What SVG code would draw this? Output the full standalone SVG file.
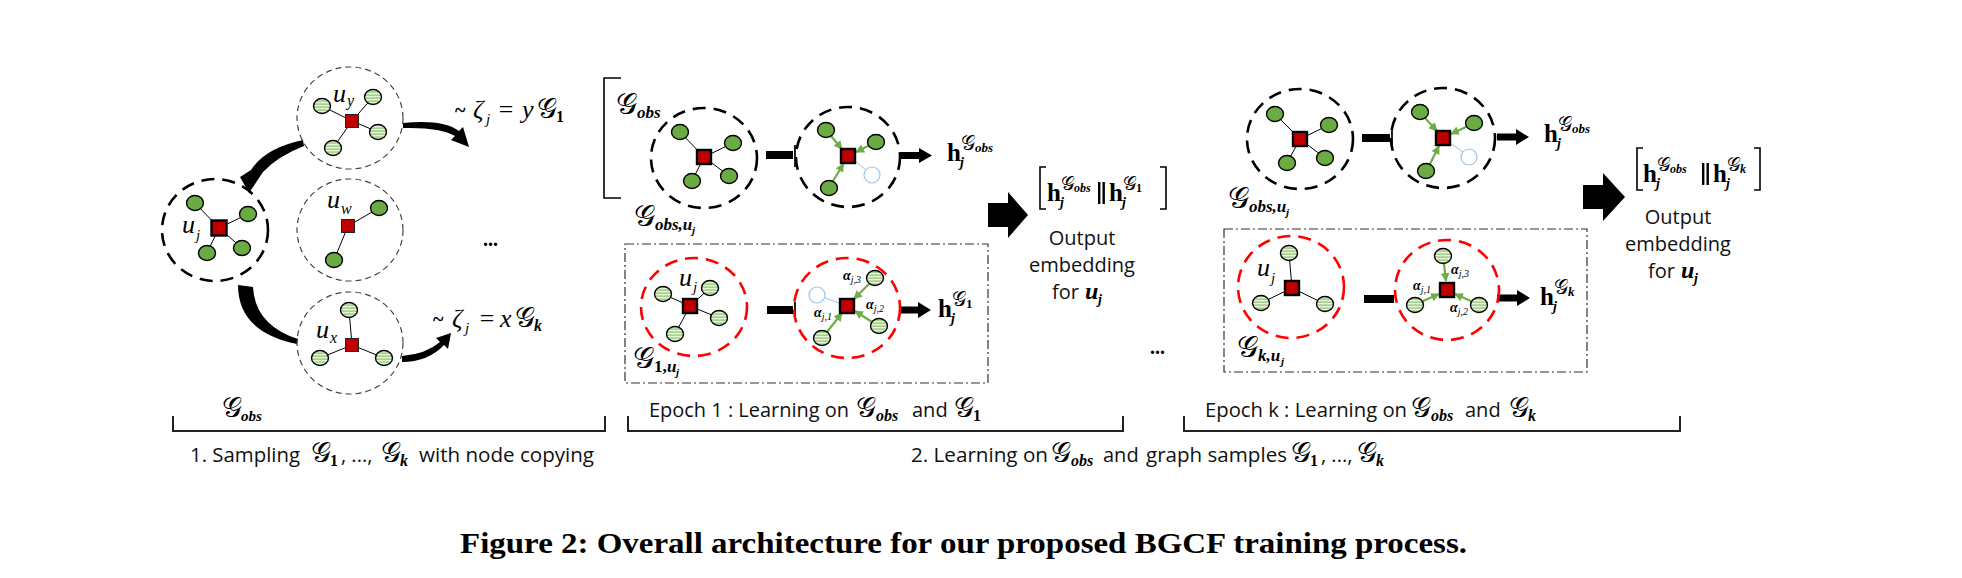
<svg xmlns="http://www.w3.org/2000/svg" width="1962" height="578" viewBox="0 0 1962 578">
<defs>
<pattern id="stripe" patternUnits="userSpaceOnUse" width="6" height="3">
<rect width="6" height="3" fill="#a9d18e"/>
<rect width="6" height="1.3" fill="#e6f3dd"/>
</pattern>
<marker id="gah" viewBox="0 0 10 10" refX="9" refY="5" markerWidth="4" markerHeight="4" orient="auto">
<path d="M0,0 L10,5 L0,10 Z" fill="#70ad47"/>
</marker>
<style>
.dk{fill:none;stroke:#000;stroke-width:2.6;stroke-dasharray:13 8}
.dt{fill:none;stroke:#444;stroke-width:1.2;stroke-dasharray:6 4}
.dr{fill:none;stroke:#ff0000;stroke-width:2.6;stroke-dasharray:13 8}
.box{fill:none;stroke:#333;stroke-width:1.2;stroke-dasharray:9 3 2 3}
.gn{fill:#6aab44;stroke:#000;stroke-width:1.4}
.ln{fill:url(#stripe);stroke:#000;stroke-width:1.4}
.bn{fill:none;stroke:#9dc3e6;stroke-width:1.2}
.sq{fill:#c00000;stroke:#000;stroke-width:2.4}
.sqt{fill:#c00000;stroke:#222;stroke-width:1}
.e{stroke:#000;stroke-width:1;fill:none}
.ga{stroke:#70ad47;stroke-width:2.2;marker-end:url(#gah);fill:none}
.be{stroke:#9dc3e6;stroke-width:1;fill:none}
.blk{fill:#000}
.br{fill:none;stroke:#000;stroke-width:1.6}
.brk{fill:none;stroke:#222;stroke-width:2}
.mi{font-family:"Liberation Serif",serif;font-style:italic}
.mib{font-family:"Liberation Serif",serif;font-style:italic;font-weight:bold}
.hb{font-family:"Liberation Serif",serif;font-weight:bold}
.sg{font-family:"DejaVu Serif","DejaVu Sans","Liberation Serif",serif}
.sans{font-family:"Open Sans","Liberation Sans",sans-serif;fill:#111}
.cap{font-family:"Liberation Serif",serif;font-weight:bold;font-size:29px}
</style>
</defs>
<rect width="1962" height="578" fill="#fff"/>

<g id="connectors">
<path class="e" d="M219 228 L195 203 M219 228 L248 214 M219 228 L207 253 M219 228 L242 248"/>
<path class="e" d="M352 121 L322 106 M352 121 L373 97 M352 121 L378 132 M352 121 L333 148"/>
<path class="e" d="M348 226 L379 208 M348 226 L334 260"/>
<path class="e" d="M352 345 L349 310 M352 345 L320 358 M352 345 L384 358"/>
<path class="blk" d="M303 140 Q265 148 251 170 L240 177 L249 193 L263 172 Q278 156 304 146 Z"/>
<path class="blk" d="M238 285 L253 287 Q255 325 298 339 L297 344 Q238 332 238 285 Z"/>
<path class="blk" d="M403 123 Q443 119 459 131 L463 127 L469 147 L451 140 L455 136 Q440 127 403 128 Z"/>
<path class="blk" d="M402 356 Q426 354 440 342 L436 338 L451 333 L448 349 L444 345 Q428 362 402 362 Z"/>
<path class="e" d="M704 157 L680 132 M704 157 L733 143 M704 157 L692 181 M704 157 L729 176"/>
<rect class="blk" x="766" y="151" width="27" height="8"/>
<path class="brk" d="M795 145 V167"/>
<path class="ga" d="M831 136 L842 149"/>
<path class="ga" d="M869 145.6 L856 152"/>
<path class="ga" d="M833 181 L843.5 163.7"/>
<path class="be" d="M855 161 L866 170"/>
<rect class="blk" x="900" y="152" width="20" height="7"/>
<path class="blk" d="M919 148 L932 155.5 L919 163 Z"/>
<path class="e" d="M690 306 L663 294 M690 306 L710 288 M690 306 L719 318 M690 306 L675 334"/>
<rect class="blk" x="767" y="306" width="26" height="8"/>
<path class="brk" d="M795 302 V319"/>
<path class="ga" d="M869 284 L854 299"/>
<path class="ga" d="M872 322 L855 311"/>
<path class="ga" d="M827 332 L842 313"/>
<path class="be" d="M840 303.5 L825 298"/>
<rect class="blk" x="900" y="306.5" width="19" height="7"/>
<path class="blk" d="M918 302 L931 310 L918 318 Z"/>
<path class="blk" d="M988 203 H1008 V192 L1028 215 L1008 238 V227 H988 Z"/>
<path class="e" d="M1300 139 L1275 114 M1300 139 L1329 125 M1300 139 L1287 163 M1300 139 L1325 158"/>
<rect class="blk" x="1362" y="134" width="28" height="8"/>
<path class="brk" d="M1392 128 V148"/>
<path class="ga" d="M1425 118 L1437 131"/>
<path class="ga" d="M1467 126.5 L1451 134"/>
<path class="ga" d="M1430 164 L1439 146"/>
<path class="be" d="M1450 143 L1463 152"/>
<rect class="blk" x="1497" y="133.5" width="20" height="7"/>
<path class="blk" d="M1516 129 L1529 137 L1516 145 Z"/>
<path class="e" d="M1292 288 L1289 253 M1292 288 L1261 303 M1292 288 L1325 304"/>
<rect class="blk" x="1364" y="295" width="30" height="8"/>
<path class="ga" d="M1444 264 L1446 281"/>
<path class="ga" d="M1422 301.5 L1439 294"/>
<path class="ga" d="M1472 301.5 L1455 294"/>
<rect class="blk" x="1497" y="294.5" width="21" height="7"/>
<path class="blk" d="M1517 290 L1530 298 L1517 306 Z"/>
<path class="blk" d="M1583 185 H1603 V173 L1625 197 L1603 221 V209 H1583 Z"/>
</g>

<g id="node-uj">
<ellipse class="dk" cx="215" cy="230" rx="53" ry="51"/>
<rect class="sq" x="211.5" y="220.5" width="15" height="15"/>
<ellipse class="gn" cx="195" cy="203" rx="8.5" ry="7.5"/>
<ellipse class="gn" cx="248" cy="214" rx="8.5" ry="7.5"/>
<ellipse class="gn" cx="207" cy="253" rx="8.5" ry="7.5"/>
<ellipse class="gn" cx="242" cy="248" rx="8.5" ry="7.5"/>
<text class="mi" x="182" y="233" font-size="26">u</text><text class="mi" x="196" y="240" font-size="15">j</text>
</g>
<g id="node-uy">
<ellipse class="dt" cx="350" cy="118" rx="53" ry="51"/>
<rect class="sqt" x="345.5" y="114.5" width="13" height="13"/>
<ellipse class="ln" cx="322" cy="106" rx="8.5" ry="7.5"/>
<ellipse class="ln" cx="373" cy="97" rx="8.5" ry="7.5"/>
<ellipse class="ln" cx="378" cy="132" rx="8.5" ry="7.5"/>
<ellipse class="ln" cx="333" cy="148" rx="8.5" ry="7.5"/>
<text class="mi" x="333" y="102" font-size="26">u</text><text class="mi" x="347" y="106" font-size="16">y</text>
</g>
<g id="node-uw">
<ellipse class="dt" cx="350" cy="230" rx="53" ry="51"/>
<rect class="sqt" x="341.5" y="219.5" width="13" height="13"/>
<ellipse class="gn" cx="379" cy="208" rx="8.5" ry="7.5"/>
<ellipse class="gn" cx="334" cy="260" rx="8.5" ry="7.5"/>
<text class="mi" x="327" y="208" font-size="26">u</text><text class="mi" x="341" y="214" font-size="16">w</text>
</g>
<g id="node-ux">
<ellipse class="dt" cx="350" cy="343" rx="53" ry="51"/>
<rect class="sqt" x="345.5" y="338.5" width="13" height="13"/>
<ellipse class="ln" cx="349" cy="310" rx="8.5" ry="7.5"/>
<ellipse class="ln" cx="320" cy="358" rx="8.5" ry="7.5"/>
<ellipse class="ln" cx="384" cy="358" rx="8.5" ry="7.5"/>
<text class="mi" x="316" y="338" font-size="26">u</text><text class="mi" x="330" y="343" font-size="16">x</text>
</g>
<g id="sample-labels">
<text class="hb" x="455" y="117" font-size="20">~</text>
<text class="mi" x="473" y="118" font-size="26">ζ</text><text class="mi" x="486" y="124" font-size="15">j</text>
<text class="mi" x="497" y="118" font-size="26">=</text><text class="mi" x="522" y="118" font-size="26">y</text>
<text class="sg" x="537" y="118" font-size="28">𝒢</text><text class="hb" x="556" y="122" font-size="16">1</text>
<text class="hb" x="433" y="326" font-size="20">~</text>
<text class="mi" x="452" y="327" font-size="26">ζ</text><text class="mi" x="465" y="333" font-size="15">j</text>
<text class="mi" x="478" y="327" font-size="26">=</text><text class="mi" x="500" y="327" font-size="26">x</text>
<text class="sg" x="515" y="327" font-size="28">𝒢</text><text class="mib" x="534" y="331" font-size="16">k</text>
<text class="hb" x="483" y="246" font-size="20">...</text>
</g>

<g id="epoch1-obs-input">
<path class="br" d="M621 78 H604 V198 H621"/>
<text class="sg" x="616" y="114" font-size="30">𝒢</text><text class="mib" x="637" y="118" font-size="17">obs</text>
<ellipse class="dk" cx="704" cy="158" rx="53" ry="50"/>
<rect class="sq" x="697" y="150" width="14" height="14"/>
<ellipse class="gn" cx="680" cy="132" rx="8.5" ry="7.5"/>
<ellipse class="gn" cx="733" cy="143" rx="8.5" ry="7.5"/>
<ellipse class="gn" cx="692" cy="181" rx="8.5" ry="7.5"/>
<ellipse class="gn" cx="729" cy="176" rx="8.5" ry="7.5"/>
<text class="sg" x="634" y="226" font-size="30">𝒢</text><text class="mib" x="655" y="230" font-size="17">obs,u</text><text class="mib" x="692" y="234" font-size="11">j</text>
</g>
<g id="epoch1-obs-agg">
<ellipse class="dk" cx="848" cy="157" rx="52" ry="50"/>
<rect class="sq" x="841" y="149" width="14" height="14"/>
<ellipse class="gn" cx="826" cy="130" rx="8.5" ry="7.5"/>
<ellipse class="gn" cx="876" cy="142" rx="8.5" ry="7.5"/>
<ellipse class="gn" cx="829" cy="188" rx="8.5" ry="7.5"/>
<ellipse class="bn" cx="872" cy="175" rx="8" ry="8"/>
<text class="hb" x="947" y="161" font-size="25">h</text><text class="mib" x="960" y="167" font-size="14">j</text>
<text class="sg" x="961" y="150" font-size="20">𝒢</text><text class="mib" x="975" y="152" font-size="13">obs</text>
</g>
<g id="epoch1-g1-input">
<rect class="box" x="625" y="244" width="363" height="139"/>
<ellipse class="dr" cx="694" cy="307" rx="53" ry="49"/>
<rect class="sq" x="683" y="299" width="14" height="14"/>
<ellipse class="ln" cx="663" cy="294" rx="8.5" ry="7.5"/>
<ellipse class="ln" cx="710" cy="288" rx="8.5" ry="7.5"/>
<ellipse class="ln" cx="719" cy="318" rx="8.5" ry="7.5"/>
<ellipse class="ln" cx="675" cy="334" rx="8.5" ry="7.5"/>
<text class="mi" x="679" y="286" font-size="26">u</text><text class="mi" x="693" y="292" font-size="15">j</text>
<text class="sg" x="633" y="368" font-size="30">𝒢</text><text class="hb" x="654" y="372" font-size="17">1,</text><text class="mib" x="667" y="372" font-size="17">u</text><text class="mib" x="676" y="376" font-size="11">j</text>
</g>
<g id="epoch1-g1-agg">
<ellipse class="dr" cx="847" cy="308" rx="53" ry="50"/>
<rect class="sq" x="840" y="299" width="14" height="14"/>
<ellipse class="ln" cx="875" cy="278" rx="8.5" ry="7.5"/>
<ellipse class="ln" cx="879" cy="326" rx="8.5" ry="7.5"/>
<ellipse class="ln" cx="822" cy="338" rx="8.5" ry="7.5"/>
<ellipse class="bn" cx="817" cy="295" rx="8" ry="8"/>
<text x="843" y="280"><tspan class="mib" font-size="14">α</tspan><tspan class="mi" font-size="10" dy="3">j,3</tspan></text>
<text x="866" y="309"><tspan class="mib" font-size="14">α</tspan><tspan class="mi" font-size="10" dy="3">j,2</tspan></text>
<text x="814" y="317"><tspan class="mib" font-size="14">α</tspan><tspan class="mi" font-size="10" dy="3">j,1</tspan></text>
<text class="hb" x="938" y="317" font-size="25">h</text><text class="mib" x="951" y="323" font-size="14">j</text>
<text class="sg" x="952" y="306" font-size="20">𝒢</text><text class="hb" x="966" y="308" font-size="13">1</text>
</g>
<g id="epoch1-output">
<path class="br" d="M1046 167 H1040 V209 H1046 M1160 167 H1166 V209 H1160"/>
<text class="hb" x="1047" y="201" font-size="25">h</text><text class="mib" x="1060" y="207" font-size="14">j</text>
<text class="sg" x="1061" y="190" font-size="19">𝒢</text><text class="mib" x="1074" y="192" font-size="12">obs</text>
<rect class="blk" x="1098" y="182" width="2.4" height="22"/><rect class="blk" x="1102.5" y="182" width="2.4" height="22"/>
<text class="hb" x="1109" y="201" font-size="25">h</text><text class="mib" x="1122" y="207" font-size="14">j</text>
<text class="sg" x="1123" y="190" font-size="19">𝒢</text><text class="hb" x="1136" y="192" font-size="12">1</text>
<text class="sans" x="1082" y="245" font-size="20" text-anchor="middle">Output</text>
<text class="sans" x="1082" y="272" font-size="20" text-anchor="middle">embedding</text>
<text class="sans" x="1052" y="299" font-size="20">for</text><text class="mib" x="1085" y="299" font-size="24">u</text><text class="mib" x="1098" y="304" font-size="14">j</text>
</g>

<text class="hb" x="1150" y="354" font-size="20">...</text>

<g id="epochk-obs-input">
<ellipse class="dk" cx="1300" cy="139" rx="53" ry="50"/>
<rect class="sq" x="1293" y="132" width="14" height="14"/>
<ellipse class="gn" cx="1275" cy="114" rx="8.5" ry="7.5"/>
<ellipse class="gn" cx="1329" cy="125" rx="8.5" ry="7.5"/>
<ellipse class="gn" cx="1287" cy="163" rx="8.5" ry="7.5"/>
<ellipse class="gn" cx="1325" cy="158" rx="8.5" ry="7.5"/>
<text class="sg" x="1228" y="208" font-size="30">𝒢</text><text class="mib" x="1249" y="212" font-size="17">obs,u</text><text class="mib" x="1286" y="216" font-size="11">j</text>
</g>
<g id="epochk-obs-agg">
<ellipse class="dk" cx="1443" cy="138" rx="52" ry="50"/>
<rect class="sq" x="1436" y="131" width="14" height="14"/>
<ellipse class="gn" cx="1420" cy="112" rx="8.5" ry="7.5"/>
<ellipse class="gn" cx="1474" cy="123" rx="8.5" ry="7.5"/>
<ellipse class="gn" cx="1426" cy="171" rx="8.5" ry="7.5"/>
<ellipse class="bn" cx="1469" cy="157" rx="8" ry="8"/>
<text class="hb" x="1544" y="142" font-size="25">h</text><text class="mib" x="1557" y="148" font-size="14">j</text>
<text class="sg" x="1558" y="131" font-size="20">𝒢</text><text class="mib" x="1572" y="133" font-size="13">obs</text>
</g>
<g id="epochk-gk-input">
<rect class="box" x="1224" y="229" width="363" height="143"/>
<ellipse class="dr" cx="1291" cy="287" rx="53" ry="51"/>
<rect class="sq" x="1285" y="281" width="14" height="14"/>
<ellipse class="ln" cx="1289" cy="253" rx="8.5" ry="7.5"/>
<ellipse class="ln" cx="1261" cy="303" rx="8.5" ry="7.5"/>
<ellipse class="ln" cx="1325" cy="304" rx="8.5" ry="7.5"/>
<text class="mi" x="1257" y="276" font-size="26">u</text><text class="mi" x="1271" y="283" font-size="15">j</text>
<text class="sg" x="1237" y="357" font-size="30">𝒢</text><text class="mib" x="1258" y="361" font-size="17">k,u</text><text class="mib" x="1281" y="365" font-size="11">j</text>
</g>
<g id="epochk-gk-agg">
<ellipse class="dr" cx="1447" cy="290" rx="52" ry="50"/>
<rect class="sq" x="1440" y="283" width="14" height="14"/>
<ellipse class="ln" cx="1443" cy="256" rx="8.5" ry="7.5"/>
<ellipse class="ln" cx="1415" cy="305" rx="8.5" ry="7.5"/>
<ellipse class="ln" cx="1479" cy="305" rx="8.5" ry="7.5"/>
<text x="1451" y="274"><tspan class="mib" font-size="14">α</tspan><tspan class="mi" font-size="10" dy="3">j,3</tspan></text>
<text x="1413" y="290"><tspan class="mib" font-size="14">α</tspan><tspan class="mi" font-size="10" dy="3">j,1</tspan></text>
<text x="1450" y="312"><tspan class="mib" font-size="14">α</tspan><tspan class="mi" font-size="10" dy="3">j,2</tspan></text>
<text class="hb" x="1540" y="305" font-size="25">h</text><text class="mib" x="1553" y="311" font-size="14">j</text>
<text class="sg" x="1554" y="294" font-size="20">𝒢</text><text class="mib" x="1568" y="296" font-size="13">k</text>
</g>
<g id="epochk-output">
<path class="br" d="M1643 148 H1637 V190 H1643 M1754 148 H1760 V190 H1754"/>
<text class="hb" x="1643" y="182" font-size="25">h</text><text class="mib" x="1656" y="188" font-size="14">j</text>
<text class="sg" x="1657" y="171" font-size="19">𝒢</text><text class="mib" x="1670" y="173" font-size="12">obs</text>
<rect class="blk" x="1702" y="163" width="2.4" height="22"/><rect class="blk" x="1706.5" y="163" width="2.4" height="22"/>
<text class="hb" x="1713" y="182" font-size="25">h</text><text class="mib" x="1726" y="188" font-size="14">j</text>
<text class="sg" x="1727" y="171" font-size="19">𝒢</text><text class="mib" x="1740" y="173" font-size="12">k</text>
<text class="sans" x="1678" y="224" font-size="20" text-anchor="middle">Output</text>
<text class="sans" x="1678" y="251" font-size="20" text-anchor="middle">embedding</text>
<text class="sans" x="1648" y="278" font-size="20">for</text><text class="mib" x="1681" y="278" font-size="24">u</text><text class="mib" x="1694" y="283" font-size="14">j</text>
</g>

<g id="brackets">
<path class="brk" d="M173 416 V431 H605 V416"/>
<path class="brk" d="M628 416 V431 H1123 V416"/>
<path class="brk" d="M1184 416 V431 H1680 V416"/>
<text class="sg" x="222" y="417" font-size="28">𝒢</text><text class="mib" x="241" y="421" font-size="15">obs</text>
<text class="sans" x="649" y="417" font-size="20" textLength="200" lengthAdjust="spacingAndGlyphs">Epoch 1 : Learning on</text>
<text class="sg" x="856" y="417" font-size="28">𝒢</text><text class="mib" x="876" y="421" font-size="16">obs</text>
<text class="sans" x="912" y="417" font-size="20">and</text>
<text class="sg" x="954" y="417" font-size="28">𝒢</text><text class="hb" x="973" y="421" font-size="16">1</text>
<text class="sans" x="1205" y="417" font-size="20" textLength="202" lengthAdjust="spacingAndGlyphs">Epoch k : Learning on</text>
<text class="sg" x="1411" y="417" font-size="28">𝒢</text><text class="mib" x="1431" y="421" font-size="16">obs</text>
<text class="sans" x="1465" y="417" font-size="20">and</text>
<text class="sg" x="1509" y="417" font-size="28">𝒢</text><text class="mib" x="1528" y="421" font-size="16">k</text>
<text class="sans" x="190" y="462" font-size="20" textLength="110" lengthAdjust="spacingAndGlyphs">1. Sampling</text>
<text class="sg" x="311" y="462" font-size="28">𝒢</text><text class="hb" x="330" y="466" font-size="16">1</text>
<text class="sans" x="341" y="462" font-size="20">, ...,</text>
<text class="sg" x="381" y="462" font-size="28">𝒢</text><text class="mib" x="400" y="466" font-size="16">k</text>
<text class="sans" x="419" y="462" font-size="20" textLength="175" lengthAdjust="spacingAndGlyphs">with node copying</text>
<text class="sans" x="911" y="462" font-size="20" textLength="137" lengthAdjust="spacingAndGlyphs">2. Learning on</text>
<text class="sg" x="1051" y="462" font-size="28">𝒢</text><text class="mib" x="1071" y="466" font-size="16">obs</text>
<text class="sans" x="1103" y="462" font-size="20">and</text>
<text class="sans" x="1146" y="462" font-size="20" textLength="141" lengthAdjust="spacingAndGlyphs">graph samples</text>
<text class="sg" x="1291" y="462" font-size="28">𝒢</text><text class="hb" x="1310" y="466" font-size="16">1</text>
<text class="sans" x="1321" y="462" font-size="20">, ...,</text>
<text class="sg" x="1357" y="462" font-size="28">𝒢</text><text class="mib" x="1376" y="466" font-size="16">k</text>
</g>

<text class="cap" x="460" y="553" textLength="1007" lengthAdjust="spacingAndGlyphs">Figure 2: Overall architecture for our proposed BGCF training process.</text>
</svg>
